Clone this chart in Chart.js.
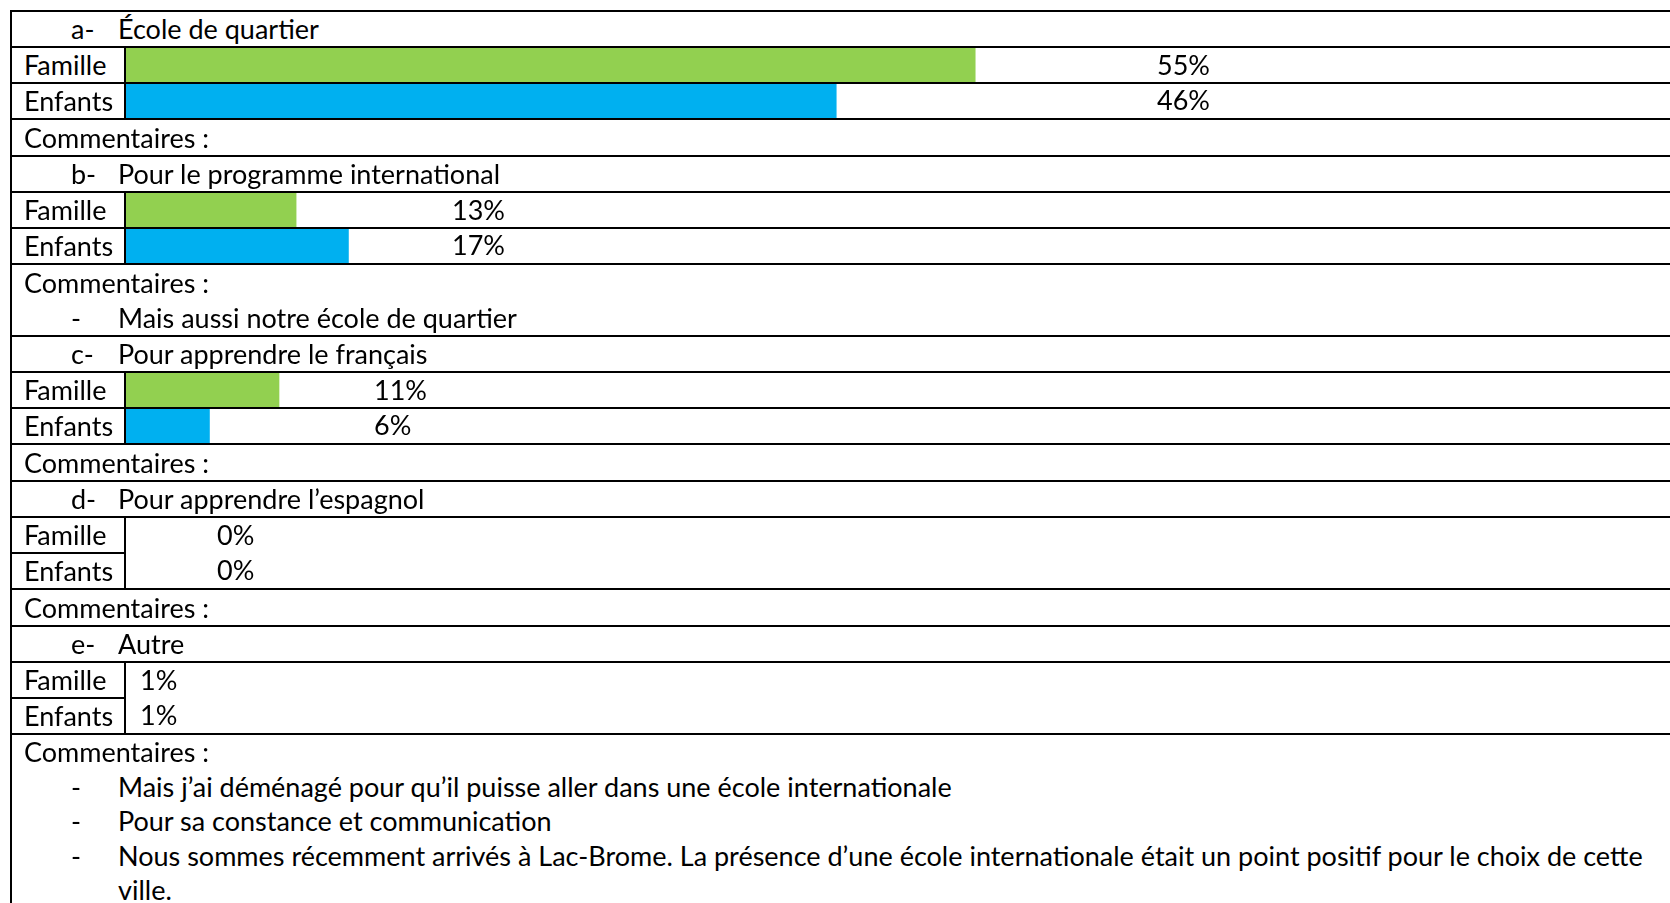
<!DOCTYPE html>
<html lang="fr">
<head>
<meta charset="utf-8">
<title>École de quartier</title>
<script src="https://cdn.jsdelivr.net/npm/chart.js@4.4.0/dist/chart.umd.min.js"></script>
<style>
  body { margin: 0; background: #fff; overflow: hidden; width: 1670px; height: 903px; }
  table { position: absolute; left: 10px; top: 10px; width: 1720px; border-collapse: collapse; table-layout: fixed;
          font-family: Lato, sans-serif; font-size: 27px; color: #000; }
  td { border: 2px solid #000; height: 34px; line-height: 34px; padding: 0 0 0 12px; white-space: nowrap; vertical-align: top; }
  td.bars { padding: 0; }
  td.comm { line-height: 35px; }
  td.last { line-height: 34.5px; height: 240px; }
  canvas { display: block; }
  .item { position: relative; padding-left: 94px; }
  .mark { position: absolute; left: 47px; }
  .wrap { white-space: normal; width: 1572px; }
</style>
</head>
<body>
<table id="grille">
  <colgroup><col style="width:114px"><col></colgroup>
</table>
<script>
const sections = ['a-', 'b-', 'c-', 'd-', 'e-'];
const questions = [
  'École de quartier',
  'Pour le programme international',
  'Pour apprendre le français',
  'Pour apprendre l’espagnol',
  'Autre'
];
const rowLabels = ['Famille', 'Enfants'];
const famille = [55, 13, 11, 0, 1];
const enfants = [46, 17, 6, 0, 1];
const commentaires = [
  [],
  ['Mais aussi notre école de quartier'],
  [],
  [],
  [
    'Mais j’ai déménagé pour qu’il puisse aller dans une école internationale',
    'Pour sa constance et communication',
    'Nous sommes récemment arrivés à Lac-Brome. La présence d’une école internationale était un point positif pour le choix de cette ville.'
  ]
];

// how each block was laid out in the original table (d and e are merged, unshaded cells)
const blocks = [
  { max: 100, labelLeft: 1031, split: true,  shaded: true },
  { max: 118, labelLeft: 326,  split: true,  shaded: true },
  { max: 111, labelLeft: 248,  split: true,  shaded: true },
  { max: 100, labelLeft: 91,   split: false, shaded: false },
  { max: 100, labelLeft: 14,   split: false, shaded: false }
];

const table = document.getElementById('grille');
sections.forEach((letter, i) => {
  let tr = table.insertRow();
  let td = tr.insertCell();
  td.colSpan = 2;
  td.innerHTML = `<div class="item"><span class="mark">${letter}</span>${questions[i]}</div>`;
  rowLabels.forEach((lab, k) => {
    tr = table.insertRow();
    tr.insertCell().textContent = lab;
    if (k === 0) {
      td = tr.insertCell();
      td.rowSpan = 2;
      td.className = 'bars';
      td.innerHTML = `<canvas id="bars${i}" width="1544" height="70"></canvas>`;
    }
  });
  tr = table.insertRow();
  td = tr.insertCell();
  td.colSpan = 2;
  td.className = i === sections.length - 1 ? 'comm last' : 'comm';
  td.innerHTML = '<div>Commentaires :</div>' +
    commentaires[i].map(c => `<div class="item wrap"><span class="mark">-</span>${c}</div>`).join('');
});

const pctLabels = {
  id: 'pctLabels',
  afterDatasetsDraw(chart, args, opts) {
    const { ctx } = chart;
    const y = chart.scales.y;
    ctx.save();
    ctx.font = opts.font;
    ctx.fillStyle = '#000';
    ctx.textBaseline = 'middle';
    chart.data.datasets[0].data.forEach((v, k) => {
      ctx.fillText(v + '%', opts.left, y.getPixelForValue(k) + 1);
    });
    ctx.restore();
  }
};

sections.forEach((letter, i) => {
  const cfg = blocks[i];
  new Chart(document.getElementById('bars' + i), {
    type: 'bar',
    data: {
      labels: rowLabels,
      datasets: [{
        data: [famille[i], enfants[i]],
        backgroundColor: cfg.shaded ? ['#92d050', '#00b0f0'] : 'transparent',
        barPercentage: 1,
        categoryPercentage: 1
      }]
    },
    options: {
      responsive: false,
      animation: false,
      indexAxis: 'y',
      layout: { padding: 0 },
      plugins: {
        legend: { display: false },
        tooltip: { enabled: false },
        pctLabels: { left: cfg.labelLeft, font: '27px Lato' }
      },
      scales: {
        x: { display: false, min: 0, max: cfg.max },
        y: {
          ticks: { display: false },
          border: { display: false },
          grid: {
            offset: true,
            drawTicks: false,
            lineWidth: 2,
            z: 1,
            color: c => (cfg.split && c.index === 1) ? '#000' : 'transparent'
          },
          afterFit: s => { s.width = 0; }
        }
      }
    },
    plugins: [pctLabels]
  });
});
</script>
</body>
</html>
